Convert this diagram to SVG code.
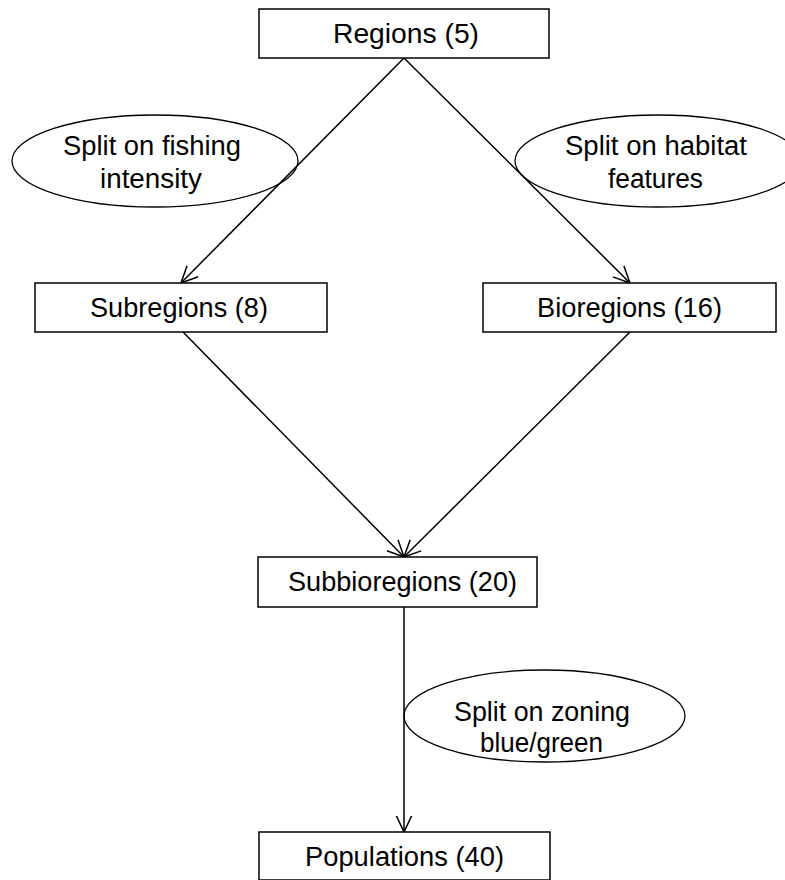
<svg xmlns="http://www.w3.org/2000/svg" width="785" height="880" viewBox="0 0 785 880">
<style>
.box{fill:#fff;stroke:#000;stroke-width:1.5}
.ell{fill:none;stroke:#000;stroke-width:1.3}
.lbl{font-family:"Liberation Sans",Arial,sans-serif;font-size:27px;fill:#000;text-anchor:middle}
.edge{stroke:#000;stroke-width:1.5;fill:none;marker-end:url(#arr)}
</style>
<defs>
<marker id="arr" markerUnits="userSpaceOnUse" viewBox="0 0 18 18" markerWidth="18" markerHeight="18" refX="16.5" refY="9" orient="auto">
<path d="M0,1.2 L16.5,9 L0,16.8" fill="none" stroke="#000" stroke-width="1.5"/>
</marker>
</defs>
<rect width="785" height="880" fill="#fff"/>
<g id="connectors">
<line class="edge" x1="404" y1="58" x2="181" y2="283"/>
<line class="edge" x1="404" y1="58" x2="630" y2="283"/>
<line class="edge" x1="183" y1="332" x2="404" y2="557"/>
<line class="edge" x1="630" y1="332" x2="404" y2="557"/>
<line class="edge" x1="404" y1="607" x2="404" y2="832"/>
</g>
<g id="regions">
<rect class="box" x="259" y="9" width="290" height="49"/>
<text class="lbl" x="406" y="43" textLength="146" lengthAdjust="spacingAndGlyphs">Regions (5)</text>
</g>
<g id="subregions">
<rect class="box" x="35" y="283" width="292" height="49"/>
<text class="lbl" x="179" y="317" textLength="178" lengthAdjust="spacingAndGlyphs">Subregions (8)</text>
</g>
<g id="bioregions">
<rect class="box" x="483" y="283" width="293" height="49"/>
<text class="lbl" x="629.5" y="317" textLength="185" lengthAdjust="spacingAndGlyphs">Bioregions (16)</text>
</g>
<g id="subbioregions">
<rect class="box" x="258" y="557" width="279" height="50"/>
<text class="lbl" x="402.5" y="591" textLength="229" lengthAdjust="spacingAndGlyphs">Subbioregions (20)</text>
</g>
<g id="populations">
<rect class="box" x="259" y="832" width="291" height="48"/>
<text class="lbl" x="404.5" y="866" textLength="199" lengthAdjust="spacingAndGlyphs">Populations (40)</text>
</g>
<g id="split-fishing">
<ellipse class="ell" cx="155" cy="161" rx="143" ry="46"/>
<text class="lbl" x="152" y="155" textLength="178" lengthAdjust="spacingAndGlyphs">Split on fishing</text>
<text class="lbl" x="151" y="188" textLength="102" lengthAdjust="spacingAndGlyphs">intensity</text>
</g>
<g id="split-habitat">
<ellipse class="ell" cx="658" cy="161" rx="143" ry="46"/>
<text class="lbl" x="656" y="155" textLength="182" lengthAdjust="spacingAndGlyphs">Split on habitat</text>
<text class="lbl" x="655.5" y="188" textLength="95" lengthAdjust="spacingAndGlyphs">features</text>
</g>
<g id="split-zoning">
<ellipse class="ell" cx="544.5" cy="716" rx="140.5" ry="46"/>
<text class="lbl" x="542" y="721" textLength="176" lengthAdjust="spacingAndGlyphs">Split on zoning</text>
<text class="lbl" x="541.5" y="752" textLength="123" lengthAdjust="spacingAndGlyphs">blue/green</text>
</g>
</svg>
